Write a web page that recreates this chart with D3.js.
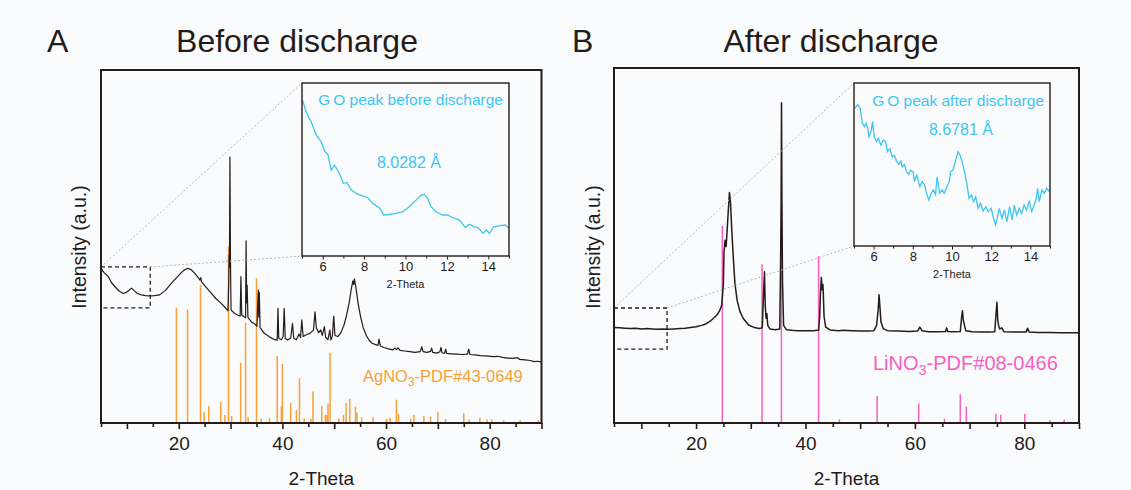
<!DOCTYPE html>
<html><head><meta charset="utf-8">
<script src="https://cdn.jsdelivr.net/npm/d3@7"></script>
<style>
html,body{margin:0;padding:0;background:#fafbfd;}
svg{display:block;font-family:"Liberation Sans",Arial,sans-serif;}
</style></head>
<body><svg id="c" width="1131" height="490"></svg>
<script>
// ---------- DATA ----------
const panelTitles = ["Before discharge", "After discharge"];
const panelLetters = ["A", "B"];
const xTickValues = [5,10,15,20,25,30,35,40,45,50,55,60,65,70,75,80,85,90];
const xTickLabels = [20,40,60,80];
const insetTickValues = [5,6,7,8,9,10,11,12,13,14,15];
const insetTickLabels = [6,8,10,12,14];

// Panel A: XRD pattern before discharge [2-theta, intensity]
const patternA = [[5.0,43.8],[5.6,42.6],[6.4,41.5],[7.0,39.8],[7.7,38.6],[8.5,37.4],[9.3,36.7],[9.9,37.0],[10.4,37.6],[10.9,38.2],[11.4,37.5],[12.0,36.7],[12.8,36.3],[13.6,36.1],[14.4,36.0],[15.3,36.1],[16.3,36.3],[17.4,37.5],[18.6,39.6],[19.6,41.2],[20.5,42.6],[21.2,43.5],[21.8,43.8],[22.4,43.4],[23.1,42.4],[23.7,41.3],[24.1,40.5],[24.25,41.2],[24.4,40.0],[25.3,38.4],[26.3,36.7],[27.2,35.2],[28.2,33.9],[28.9,32.8],[29.5,31.8],[29.65,40],[29.72,47.6],[29.78,44],[29.88,75.3],[29.98,46],[30.1,32.0],[30.8,31.0],[31.6,30.4],[31.85,30.3],[32.0,41.5],[32.15,30.6],[32.6,30.1],[32.9,29.8],[33.0,51.6],[33.1,34.0],[33.2,39.0],[33.35,29.9],[34.0,28.7],[34.7,28.0],[35.1,27.4],[35.25,34],[35.35,37.7],[35.45,30],[35.55,37.0],[35.7,27.0],[36.5,25.4],[37.5,24.4],[38.5,23.6],[39.0,23.5],[39.15,32.5],[39.3,24.0],[39.8,23.6],[40.15,24.5],[40.35,32.5],[40.55,24.0],[41.0,23.5],[41.6,24.0],[41.95,28.2],[42.2,24.0],[42.7,23.6],[43.2,25.2],[43.5,24.2],[43.75,29.2],[44.0,24.5],[44.6,25.0],[45.3,25.4],[46.0,26.3],[46.3,31.5],[46.55,27.0],[47.0,25.6],[47.4,26.4],[47.7,24.8],[48.1,27.3],[48.35,24.3],[48.8,23.6],[49.15,26.3],[49.35,23.5],[49.65,24.6],[49.9,30.3],[50.15,24.8],[50.7,24.5],[51.3,25.6],[51.9,27.8],[52.4,30.6],[52.9,34.2],[53.3,38.0],[53.6,40.3],[53.75,39.2],[53.9,40.8],[54.2,38.3],[54.6,34.0],[55.1,30.0],[55.6,27.0],[56.2,24.8],[56.8,23.3],[57.3,22.6],[58.0,22.2],[58.45,22.0],[58.65,23.8],[58.9,21.8],[59.6,21.4],[60.5,21.0],[61.3,20.7],[61.7,21.2],[62.0,20.8],[62.3,21.3],[62.7,20.6],[63.6,20.4],[64.6,20.2],[65.6,20.0],[66.6,20.2],[66.9,21.6],[67.15,20.2],[67.9,20.0],[68.6,20.3],[68.8,21.2],[69.0,20.0],[69.8,19.8],[70.4,20.2],[70.6,21.4],[70.8,19.9],[71.3,19.7],[71.5,20.9],[71.7,19.7],[72.6,19.6],[73.6,19.5],[74.6,19.4],[75.7,19.5],[75.95,20.9],[76.2,19.4],[77.2,19.3],[78.2,19.1],[79.2,19.0],[80.2,18.9],[80.8,18.8],[81.5,18.9],[82.5,18.6],[83.5,18.4],[84.5,18.3],[85.4,18.5],[85.8,18.0],[86.8,17.9],[87.8,17.7],[88.6,17.4],[89.2,17.5],[90.0,17.3]];
// AgNO3 reference sticks [2-theta, relative intensity]
const sticksA = [[19.55,32.7],[21.7,32.2],[24.2,39.1],[24.9,3.2],[25.8,4.8],[28.1,6.0],[28.9,2.3],[29.6,50.0],[30.2,2.0],[31.95,17.1],[32.9,28.4],[33.4,1.6],[35.0,41.0],[35.9,1.3],[37.5,1.3],[39.0,19.0],[39.8,4.8],[40.0,16.7],[41.6,5.7],[42.7,3.7],[43.3,12.7],[44.2,1.3],[45.5,1.2],[45.9,8.9],[47.6,4.8],[48.3,2.3],[48.6,2.3],[48.8,5.5],[49.2,19.9],[50.9,1.3],[51.8,2.3],[52.3,5.7],[53.0,6.9],[54.1,4.6],[54.4,3.0],[55.3,1.6],[57.5,1.6],[60.1,1.2],[60.8,1.4],[62.0,6.6],[62.4,2.6],[64.75,1.2],[65.4,2.3],[67.3,2.0],[68.6,1.8],[70.0,3.2],[71.5,1.1],[75.0,2.8],[76.0,1.0],[78.1,1.5],[79.5,1.0],[80.4,1.0],[82.7,0.8],[85.9,0.8],[89.4,0.8]];

// Panel B: XRD pattern after discharge
const patternB = [[5.0,26.9],[6.0,26.8],[7.0,26.7],[8.0,26.6],[9.0,26.7],[10.0,26.5],[11.0,26.6],[12.0,26.5],[13.0,26.4],[14.0,26.5],[15.0,26.4],[16.0,26.5],[17.0,26.6],[18.0,26.7],[19.0,26.9],[20.0,27.1],[21.0,27.5],[21.8,27.9],[22.5,28.6],[23.2,29.5],[23.8,30.4],[24.3,31.6],[24.7,33.2],[25.0,39.4],[25.1,47.8],[25.3,51.5],[25.5,49.7],[25.9,60.0],[26.1,64.9],[26.3,62.0],[26.5,55.3],[26.8,46.8],[27.1,39.4],[27.5,34.6],[28.0,31.5],[28.6,29.5],[29.6,27.6],[30.5,27.0],[31.5,26.6],[32.1,26.8],[32.3,35.0],[32.5,42.6],[32.65,33.0],[32.8,29.5],[32.95,30.8],[33.1,27.5],[33.5,26.5],[34.5,26.3],[35.3,26.5],[35.45,45.0],[35.55,62.3],[35.62,90.2],[35.7,62.0],[35.8,40.0],[36.0,27.5],[36.5,26.3],[37.5,26.1],[38.5,26.0],[39.5,26.0],[40.5,26.0],[41.5,26.0],[42.4,26.2],[42.6,30.0],[42.75,37.0],[42.9,41.0],[43.05,37.5],[43.2,39.0],[43.4,30.0],[43.7,27.0],[44.5,26.2],[46.0,26.0],[47.0,26.1],[48.5,26.0],[50.0,25.9],[51.5,25.9],[52.5,26.0],[53.0,27.5],[53.3,32.0],[53.45,36.1],[53.6,33.0],[53.8,28.5],[54.2,26.6],[55.0,26.0],[57.0,25.9],[59.0,25.8],[60.5,25.9],[60.9,27.0],[61.3,26.0],[62.5,25.7],[64.0,25.7],[65.6,25.8],[65.8,26.8],[66.0,25.8],[67.0,25.7],[68.3,25.8],[68.55,30.0],[68.7,31.6],[68.85,29.0],[69.0,28.0],[69.3,26.0],[70.5,25.7],[72.0,25.6],[73.5,25.6],[74.6,25.7],[74.85,31.0],[75.0,34.0],[75.15,29.0],[75.3,27.5],[75.5,26.5],[75.9,26.8],[76.3,25.7],[78.0,25.6],[80.3,25.6],[80.6,26.7],[80.9,25.6],[82.5,25.5],[84.5,25.5],[86.5,25.4],[88.0,25.4],[90.0,25.4]];
// LiNO3 reference sticks
const sticksB = [[24.8,55.5],[32.06,44.7],[35.6,55.0],[42.4,47.0],[46.2,1.0],[53.1,7.6],[60.7,5.5],[65.4,1.2],[68.3,8.1],[69.4,4.6],[74.8,2.6],[75.7,2.3],[80.1,2.6],[84.7,0.8],[87.3,1.0]];

// Insets: GO peak region (5-15 deg)
const insetA = [[5.03,90.0],[5.2,83.3],[5.45,77.5],[5.69,69.8],[5.93,66.0],[6.09,60.6],[6.25,58.7],[6.41,49.6],[6.57,52.5],[6.81,47.7],[7.0,41.9],[7.17,42.5],[7.38,38.1],[7.7,35.6],[7.94,34.8],[8.18,33.7],[8.42,30.4],[8.66,28.5],[8.77,27.5],[8.95,23.7],[9.22,24.0],[9.54,24.6],[9.87,25.6],[10.19,28.5],[10.51,32.3],[10.75,35.2],[10.91,35.6],[11.07,33.3],[11.23,28.5],[11.47,25.6],[11.8,23.7],[12.04,23.7],[12.28,22.1],[12.52,21.3],[12.68,19.8],[12.89,16.4],[13.09,18.3],[13.33,16.9],[13.5,16.4],[13.74,13.1],[13.9,15.0],[14.05,13.1],[14.26,16.9],[14.58,17.5],[14.82,17.9],[14.98,16.4]];
const insetB = [[5.05,84.5],[5.19,86.9],[5.31,84.5],[5.43,75.3],[5.53,73.2],[5.61,75.3],[5.7,72.2],[5.76,67.1],[5.87,70.1],[5.95,76.3],[6.03,67.0],[6.15,64.0],[6.24,66.0],[6.37,61.9],[6.49,65.0],[6.61,64.0],[6.71,57.9],[6.83,59.9],[6.95,54.8],[7.06,55.5],[7.17,52.1],[7.29,50.1],[7.39,52.0],[7.46,48.5],[7.58,50.0],[7.68,45.6],[7.8,44.0],[7.88,46.5],[8.02,45.5],[8.08,39.5],[8.2,43.5],[8.36,36.4],[8.48,39.5],[8.6,37.5],[8.7,32.3],[8.82,28.2],[8.94,32.3],[9.04,34.4],[9.16,31.5],[9.24,42.5],[9.37,32.3],[9.49,34.4],[9.6,32.3],[9.74,36.4],[9.86,39.5],[9.93,45.5],[10.05,46.6],[10.19,52.8],[10.31,57.9],[10.4,56.0],[10.53,51.1],[10.65,44.8],[10.77,37.4],[10.87,29.2],[10.99,31.3],[11.11,27.2],[11.21,30.2],[11.33,23.1],[11.45,26.2],[11.59,21.5],[11.73,24.1],[11.85,21.1],[12.0,23.1],[12.12,17.0],[12.22,12.9],[12.34,19.0],[12.41,23.1],[12.55,17.0],[12.67,22.1],[12.8,14.9],[12.94,24.1],[13.07,16.0],[13.18,25.1],[13.3,19.0],[13.43,23.1],[13.56,20.0],[13.68,25.1],[13.8,22.1],[13.94,27.2],[14.07,21.1],[14.19,25.1],[14.28,28.2],[14.37,35.4],[14.45,27.2],[14.59,34.4],[14.71,32.3],[14.83,35.4],[15.0,33.0]];

// zoom boxes [x0,x1,y0,y1] in data units
const zoomA = [5, 14.5, 32.6, 44.2];
const zoomB = [5, 14.7, 20.8, 32.4];
const insetTitles = [["G","O peak before discharge"], ["G","O peak after discharge"]];
const dSpacings = ["8.0282 Å", "8.6781 Å"];
const refLabels = [["AgNO","3","-PDF#43-0649"],["LiNO","3","-PDF#08-0466"]];

// ---------- STYLE / LAYOUT ----------
const INK = "#251b18";
const CYAN = "#3cc6f2";
const ORANGE = "#f9a03a";
const PINK = "#f75fc2";
const BG = "#fafbfd";

const panels = [
  {letter:panelLetters[0], title:panelTitles[0], x0:101, x1:541.5, top:70, bottom:423,
   letterX:47, titleX:297, ylabX:86,
   pattern:patternA, sticks:sticksA, stickColor:ORANGE, curveW:1.2,
   ins:{x0:302,x1:509,top:83,bottom:256,data:insetA,title:insetTitles[0],titleY:105,d:dSpacings[0],dX:409,dY:168},
   zoom:zoomA, ref:refLabels[0], refX:363, refY:382, refSize:16.5},
  {letter:panelLetters[1], title:panelTitles[1], x0:614, x1:1079, top:68, bottom:423,
   letterX:572, titleX:831, ylabX:600,
   pattern:patternB, sticks:sticksB, stickColor:PINK, curveW:1.5,
   ins:{x0:854,x1:1050,top:83,bottom:246,data:insetB,title:insetTitles[1],titleY:106,d:dSpacings[1],dX:961,dY:135},
   zoom:zoomB, ref:refLabels[1], refX:873, refY:370, refSize:20}
];

const svg = d3.select("#c");
svg.append("rect").attr("width",1131).attr("height",490).attr("fill",BG);

panels.forEach(p => {
  const g = svg.append("g");
  const x = d3.scaleLinear().domain([5,90]).range([p.x0,p.x1]);
  const y = d3.scaleLinear().domain([0,100]).range([p.bottom,p.top]);

  // titles
  g.append("text").attr("x",p.letterX).attr("y",52).attr("font-size",32).attr("fill",INK).text(p.letter);
  g.append("text").attr("x",p.titleX).attr("y",52).attr("font-size",32).attr("fill",INK)
    .attr("text-anchor","middle").text(p.title);

  // reference sticks
  g.append("g").selectAll("line").data(p.sticks).join("line")
    .attr("x1",d=>x(d[0])).attr("x2",d=>x(d[0]))
    .attr("y1",y(0)).attr("y2",d=>y(d[1]))
    .attr("stroke",p.stickColor).attr("stroke-width",1.5);

  // pattern
  const line = d3.line().x(d=>x(d[0])).y(d=>y(d[1]));
  g.append("path").datum(p.pattern).attr("d",line).attr("fill","none")
    .attr("stroke",INK).attr("stroke-width",p.curveW).attr("stroke-linejoin","round");

  // reference label with subscript
  const rt = g.append("text").attr("x",p.refX).attr("y",p.refY).attr("font-size",p.refSize).attr("fill",p.stickColor);
  rt.append("tspan").text(p.ref[0]);
  rt.append("tspan").attr("font-size",p.refSize*0.72).attr("dy",p.refSize*0.25).text(p.ref[1]);
  rt.append("tspan").attr("dy",-p.refSize*0.25).text(p.ref[2]);

  // zoom box
  const zb = p.zoom;
  const bx0 = x(zb[0]), bx1 = x(zb[1]), by0 = y(zb[3]), by1 = y(zb[2]);
  g.append("rect").attr("x",bx0).attr("y",by0).attr("width",bx1-bx0).attr("height",by1-by0)
    .attr("fill","none").attr("stroke",INK).attr("stroke-width",1.3).attr("stroke-dasharray","4,3");

  // connector lines
  const ins = p.ins;
  g.append("line").attr("x1",bx0).attr("y1",by0).attr("x2",ins.x0).attr("y2",ins.top)
    .attr("stroke","#b8b8b8").attr("stroke-width",1).attr("stroke-dasharray","2,2");
  g.append("line").attr("x1",bx1).attr("y1",by0).attr("x2",ins.x0).attr("y2",ins.bottom)
    .attr("stroke","#b8b8b8").attr("stroke-width",1).attr("stroke-dasharray","2,2");

  // main frame
  g.append("rect").attr("x",p.x0).attr("y",p.top).attr("width",p.x1-p.x0).attr("height",p.bottom-p.top)
    .attr("fill","none").attr("stroke",INK).attr("stroke-width",2);

  // x axis
  const ax = d3.axisBottom(x).tickValues(xTickValues)
    .tickFormat(d => xTickLabels.includes(d) ? d : "").tickSizeOuter(0);
  const axg = g.append("g").attr("transform",`translate(0,${p.bottom})`).call(ax);
  axg.select(".domain").remove();
  axg.selectAll(".tick line").attr("stroke",INK).attr("stroke-width",1.6)
    .attr("y2",d => d%10===0 ? 6 : 4);
  axg.selectAll(".tick text").attr("fill",INK).attr("font-size",19)
    .attr("font-family","Liberation Sans, Arial, sans-serif").attr("y",14).attr("dy","0.71em");

  g.append("text").attr("x",(p.x0+p.x1)/2).attr("y",485).attr("font-size",19).attr("fill",INK)
    .attr("text-anchor","middle").text("2-Theta");
  g.append("text").attr("transform",`translate(${p.ylabX},247) rotate(-90)`).attr("font-size",19.5)
    .attr("fill",INK).attr("text-anchor","middle").text("Intensity (a.u.)");

  // inset
  const ix = d3.scaleLinear().domain([5,15]).range([ins.x0,ins.x1]);
  const iy = d3.scaleLinear().domain([0,100]).range([ins.bottom,ins.top]);
  const ig = g.append("g");
  ig.append("rect").attr("x",ins.x0).attr("y",ins.top).attr("width",ins.x1-ins.x0).attr("height",ins.bottom-ins.top)
    .attr("fill",BG);
  ig.append("path").datum(ins.data).attr("d",d3.line().x(d=>ix(d[0])).y(d=>iy(d[1])))
    .attr("fill","none").attr("stroke",CYAN).attr("stroke-width",1.3);
  ig.append("rect").attr("x",ins.x0).attr("y",ins.top).attr("width",ins.x1-ins.x0).attr("height",ins.bottom-ins.top)
    .attr("fill","none").attr("stroke",INK).attr("stroke-width",1.4);
  const iax = d3.axisBottom(ix).tickValues(insetTickValues)
    .tickFormat(d => insetTickLabels.includes(d) ? d : "").tickSizeOuter(0);
  const iag = ig.append("g").attr("transform",`translate(0,${ins.bottom})`).call(iax);
  iag.select(".domain").remove();
  iag.selectAll(".tick line").attr("stroke",INK).attr("stroke-width",1).attr("y2",d=>d%2===0?3.5:2.5);
  iag.selectAll(".tick text").attr("fill",INK).attr("font-size",13)
    .attr("font-family","Liberation Sans, Arial, sans-serif").attr("y",6).attr("dy","0.71em");
  ig.append("text").attr("x",(ins.x0+ins.x1)/2).attr("y",ins.bottom+32).attr("font-size",11)
    .attr("fill",INK).attr("text-anchor","middle").text("2-Theta");
  const tt = ig.append("text").attr("x",ins.x1-6).attr("y",ins.titleY).attr("font-size",15.5).attr("fill",CYAN)
    .attr("text-anchor","end");
  tt.append("tspan").attr("letter-spacing",3).text(ins.title[0]);
  tt.append("tspan").text(ins.title[1]);
  ig.append("text").attr("x",ins.dX).attr("y",ins.dY).attr("font-size",16).attr("fill",CYAN)
    .attr("text-anchor","middle").text(ins.d);
});
</script></body></html>
